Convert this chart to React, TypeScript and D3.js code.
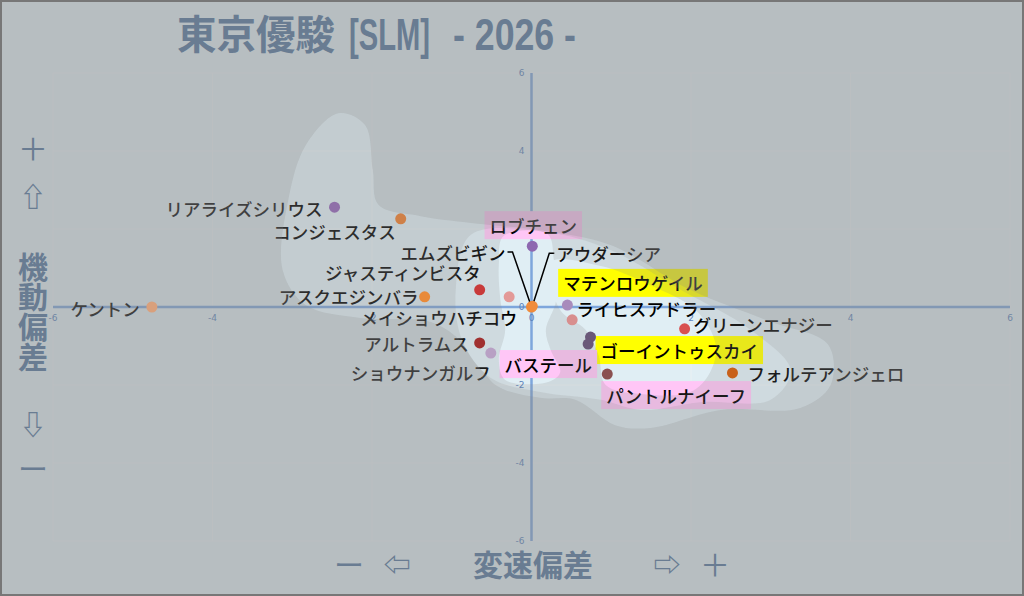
import React, { useRef, useEffect } from 'react';
import * as d3 from 'd3';

// horses, x = 変速偏差, y = 機動偏差
const horseNames = [
  'ケントン', 'リアライズシリウス', 'コンジェスタス', 'アスクエジンバラ', 'ジャスティンビスタ',
  'メイショウハチコウ', 'エムズビギン', 'アウダーシア', 'ロブチェン', 'ライヒスアドラー',
  'マテンロウゲイル', 'ゴーイントゥスカイ', 'バステール', 'ショウナンガルフ', 'アルトラムス',
  'グリーンエナジー', 'フォルテアンジェロ', 'パントルナイーフ',
];
const speedDev = [-4.76, -2.47, -1.64, -1.34, -0.65, -0.28, 0.0, 0.01, 0.01, 0.45, 0.51, 0.74, 0.71, -0.51, -0.65, 1.92, 2.52, 0.95];
const mobilityDev = [0.0, 2.56, 2.26, 0.26, 0.44, 0.26, 0.0, 0.02, 1.56, 0.05, -0.33, -0.77, -0.95, -1.18, -0.92, -0.56, -1.69, -1.72];
const dotColors = [
  '#d9a07c', '#8f6fa8', '#cf8048', '#e88a3a', '#c83a3a',
  '#e39a98', '#f08c3c', '#f08c3c', '#8e68b0', '#a88cbc',
  '#d88e8e', '#6a5878', '#6a5878', '#b8a0c4', '#a03030',
  '#d85050', '#c8601a', '#8a5050',
];
const yellowNames = ['マテンロウゲイル', 'ゴーイントゥスカイ'];
const pinkNames = ['ロブチェン', 'バステール', 'パントルナイーフ'];
const leaderNames = ['エムズビギン', 'アウダーシア'];
const ticks = [-6, -4, -2, 0, 2, 4, 6];

// density-ish blobs (data units)
const outerBlob: [number, number][] = [
  [-3.12, 0.95], [-3.05, 2.74], [-2.83, 4.15], [-2.42, 4.97], [-2.09, 4.67], [-1.99, 3.51],
  [-1.92, 2.62], [-1.39, 2.33], [-0.64, 2.13], [0.11, 1.97], [0.99, 1.59], [1.99, 0.44],
  [3.0, -0.38], [3.72, -0.97], [3.75, -2.0], [3.37, -2.59], [2.37, -2.64], [1.49, -3.1],
  [1.05, -3.03], [0.55, -2.38], [0.11, -2.33], [-0.45, -2.0], [-0.83, -0.97], [-1.27, -0.38],
  [-2.14, -0.28], [-2.83, 0.05],
];
const midBlob: [number, number][] = [
  [-0.76, 1.85], [0.18, 1.92], [0.99, 1.46], [1.87, 0.44], [2.75, -0.59], [3.25, -1.62],
  [3.0, -2.38], [2.12, -2.44], [1.37, -2.64], [0.87, -2.38], [0.11, -2.18], [-0.51, -1.82],
  [-0.87, -0.85], [-0.95, 0.44],
];
const innerColumn: [number, number][] = [
  [-0.35, 1.82], [0.2, 1.87], [0.28, 1.21], [0.31, 0.18], [0.18, -0.59], [0.24, -1.1],
  [0.36, -1.67], [0.21, -1.92], [-0.33, -1.87], [-0.41, -1.36], [-0.33, -0.59], [-0.39, 0.18],
  [-0.41, 1.08],
];
const innerBand: [number, number][] = [
  [0.24, 1.15], [0.87, 1.05], [1.49, 0.56], [2.06, -0.08], [2.31, -0.97], [2.24, -1.67],
  [1.99, -2.18], [1.37, -2.23], [0.93, -2.0], [0.84, -1.23], [0.68, -0.59], [0.36, -0.08],
];

// label placement relative to the dot: anchor, dx, dy (px)
const labelPlacement: Record<string, [string, number, number]> = {
  'ケントン': ['end', -12, 1],
  'リアライズシリウス': ['end', -12, 1],
  'コンジェスタス': ['end', -5, 13],
  'エムズビギン': ['end', -26, -55],
  'アウダーシア': ['start', 24, -53],
  'ロブチェン': ['middle', 1, -21],
  'ジャスティンビスタ': ['end', 1, -17],
  'アスクエジンバラ': ['end', -6, 0],
  'メイショウハチコウ': ['end', 8, 21],
  'アルトラムス': ['end', -11, 1],
  'ショウナンガルフ': ['end', 0, 19],
  'バステール': ['end', 4, 20],
  'マテンロウゲイル': ['start', -9, -37],
  'ライヒスアドラー': ['start', 9, 3],
  'グリーンエナジー': ['start', 9, -4],
  'ゴーイントゥスカイ': ['start', 10, 13],
  'フォルテアンジェロ': ['start', 15, 1],
  'パントルナイーフ': ['start', -1, 21],
};

const W = 1024;
const H = 596;
const JP = '"Noto Sans CJK JP", "Noto Sans", sans-serif';
const SLATE = '#697c92';

export default function App() {
  const svgRef = useRef<SVGSVGElement>(null);

  useEffect(() => {
    if (!svgRef.current) return;
    const svg = d3.select(svgRef.current);
    svg.selectAll('*').remove();

    const x = d3.scaleLinear().domain([-6, 6]).range([53, 1010]);
    const y = d3.scaleLinear().domain([-6, 6]).range([541, 73]);
    const blob = d3.line<[number, number]>()
      .x(d => x(d[0]))
      .y(d => y(d[1]))
      .curve(d3.curveCatmullRomClosed.alpha(0.5));

    // fog mask: white = full overlay, black = clear
    const defs = svg.append('defs');
    const mask = defs.append('mask')
      .attr('id', 'fog')
      .attr('maskUnits', 'userSpaceOnUse')
      .attr('x', 0).attr('y', 0).attr('width', W).attr('height', H)
      .attr('color-interpolation', 'sRGB');
    mask.append('rect').attr('width', W).attr('height', H).attr('fill', '#fff');
    mask.append('path').attr('d', blob(outerBlob)).attr('fill', '#b3b3b3');
    mask.append('path').attr('d', blob(midBlob)).attr('fill', '#6b6b6b');
    mask.append('path').attr('d', blob(innerColumn)).attr('fill', '#000');
    mask.append('path').attr('d', blob(innerBand)).attr('fill', '#000');

    svg.append('rect').attr('width', W).attr('height', H).attr('fill', '#e0eef4');

    // grid
    const grid = svg.append('g').attr('stroke', '#e9f0f3').attr('stroke-width', 1);
    grid.selectAll('.gx').data(ticks).enter().append('line')
      .attr('x1', d => x(d)).attr('x2', d => x(d))
      .attr('y1', y(6)).attr('y2', y(-6));
    grid.selectAll('.gy').data(ticks).enter().append('line')
      .attr('x1', x(-6)).attr('x2', x(6))
      .attr('y1', d => y(d)).attr('y2', d => y(d));

    // axes through origin
    svg.append('line')
      .attr('x1', x(-6)).attr('x2', x(6)).attr('y1', y(0)).attr('y2', y(0))
      .attr('stroke', '#7ea6dc').attr('stroke-width', 2.5);
    svg.append('line')
      .attr('x1', x(0)).attr('x2', x(0)).attr('y1', y(6)).attr('y2', y(-6))
      .attr('stroke', '#7ea6dc').attr('stroke-width', 2.5);

    const tickG = svg.append('g')
      .attr('font-family', '"DejaVu Sans", sans-serif')
      .attr('font-size', 9)
      .attr('fill', '#5a82bb');
    tickG.selectAll('.tx').data(ticks).enter().append('text')
      .attr('x', d => x(d)).attr('y', y(0) + 14)
      .attr('text-anchor', 'middle')
      .text(d => String(d));
    tickG.selectAll('.ty').data(ticks).enter().append('text')
      .attr('x', x(0) - 7).attr('y', d => y(d))
      .attr('text-anchor', 'end')
      .attr('dominant-baseline', 'central')
      .text(d => String(d));

    // labels
    const labels = svg.append('g')
      .attr('font-family', JP)
      .attr('font-size', 17.5)
      .attr('font-weight', 500);
    horseNames.forEach((name, i) => {
      const px = x(speedDev[i]);
      const py = y(mobilityDev[i]);
      const [anchor, dx, dy] = labelPlacement[name];
      const g = labels.append('g');
      const t = g.append('text')
        .attr('x', px + dx).attr('y', py + dy)
        .attr('text-anchor', anchor)
        .attr('dominant-baseline', 'central')
        .attr('fill', '#000')
        .text(name);
      const hl = yellowNames.includes(name) ? '#ffff00' : pinkNames.includes(name) ? '#ffc6f6' : null;
      if (hl) {
        const bb = (t.node() as SVGTextElement).getBBox();
        g.insert('rect', 'text')
          .attr('x', bb.x - 5).attr('y', py + dy - 14)
          .attr('width', bb.width + 10).attr('height', 28)
          .attr('fill', hl);
      }
      if (leaderNames.includes(name)) {
        const bb = (t.node() as SVGTextElement).getBBox();
        const sx = anchor === 'end' ? bb.x + bb.width + 2 : bb.x - 2;
        const kx = anchor === 'end' ? sx + 5 : sx - 5;
        g.append('path')
          .attr('d', `M${sx},${py + dy} L${kx},${py + dy} L${px},${py}`)
          .attr('fill', 'none')
          .attr('stroke', '#000')
          .attr('stroke-width', 1.5);
      }
    });

    // fog overlay
    svg.append('rect')
      .attr('width', W).attr('height', H)
      .attr('fill', '#888')
      .attr('fill-opacity', 0.47)
      .attr('mask', 'url(#fog)');

    // dots
    svg.append('g').selectAll('circle')
      .data(horseNames)
      .enter()
      .append('circle')
      .attr('cx', (_, i) => x(speedDev[i]))
      .attr('cy', (_, i) => y(mobilityDev[i]))
      .attr('r', 5.5)
      .attr('fill', (_, i) => dotColors[i]);

    // title
    const title = svg.append('g').attr('fill', SLATE).attr('font-weight', 700);
    title.append('text')
      .attr('x', 177).attr('y', 49)
      .attr('font-family', JP).attr('font-size', 40)
      .attr('textLength', 158).attr('lengthAdjust', 'spacingAndGlyphs')
      .text('東京優駿');
    title.append('text')
      .attr('x', 349).attr('y', 50)
      .attr('font-family', '"Liberation Sans Narrow", "Liberation Sans", sans-serif').attr('font-size', 44)
      .attr('textLength', 81).attr('lengthAdjust', 'spacingAndGlyphs')
      .text('[SLM]');
    title.append('text')
      .attr('x', 453).attr('y', 50)
      .attr('font-family', '"Liberation Sans Narrow", "Liberation Sans", sans-serif').attr('font-size', 44)
      .attr('textLength', 123).attr('lengthAdjust', 'spacingAndGlyphs')
      .text('- 2026 -');

    // axis titles
    const axisT = svg.append('g')
      .attr('fill', SLATE)
      .attr('font-family', JP)
      .attr('text-anchor', 'middle')
      .attr('dominant-baseline', 'central');
    const vert = [
      { t: '＋', y: 147, s: 30, w: 400 },
      { t: '⇧', y: 195, s: 27, w: 700 },
      { t: '機', y: 265, s: 30, w: 700 },
      { t: '動', y: 295, s: 30, w: 700 },
      { t: '偏', y: 325, s: 30, w: 700 },
      { t: '差', y: 355, s: 30, w: 700 },
      { t: '⇩', y: 423, s: 27, w: 700 },
      { t: 'ー', y: 467, s: 30, w: 400 },
    ];
    vert.forEach(v => {
      axisT.append('text')
        .attr('x', 33).attr('y', v.y)
        .attr('font-size', v.s).attr('font-weight', v.w)
        .text(v.t);
    });
    const horiz = [
      { t: 'ー', x: 349, s: 30, w: 400 },
      { t: '⇦', x: 397, s: 27, w: 700 },
      { t: '変速偏差', x: 533, s: 30, w: 700 },
      { t: '⇨', x: 667, s: 27, w: 700 },
      { t: '＋', x: 715, s: 30, w: 400 },
    ];
    horiz.forEach(h => {
      axisT.append('text')
        .attr('x', h.x).attr('y', 563)
        .attr('font-size', h.s).attr('font-weight', h.w)
        .text(h.t);
    });

    // frame
    svg.append('rect')
      .attr('x', 1).attr('y', 1).attr('width', W - 2).attr('height', H - 2)
      .attr('fill', 'none').attr('stroke', '#777').attr('stroke-width', 2);
  }, []);

  return (
    <div style={{ position: 'fixed', left: 0, top: 0, width: W, height: H }}>
      <svg ref={svgRef} width={W} height={H} style={{ display: 'block' }}></svg>
    </div>
  );
}
